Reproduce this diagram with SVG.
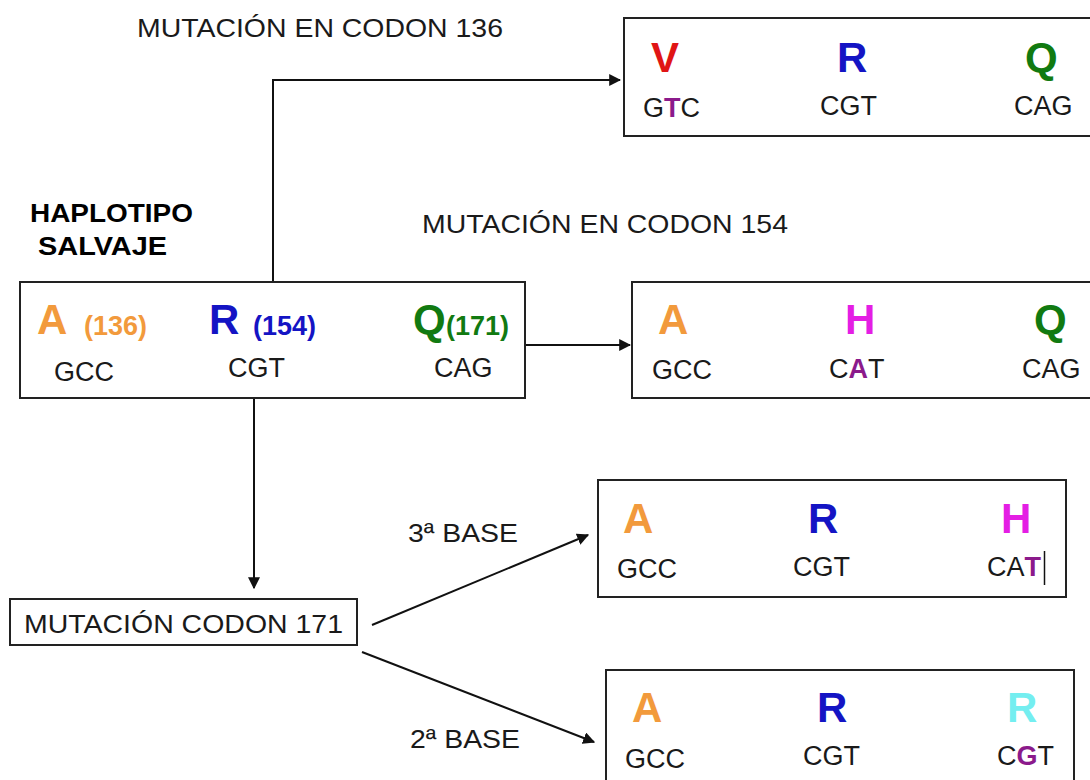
<svg xmlns="http://www.w3.org/2000/svg" width="1090" height="780" viewBox="0 0 1090 780">
<style>
.box{fill:#fff;stroke:#222;stroke-width:2}
.lbl{font-family:"Liberation Sans",Arial,sans-serif;font-size:25px;fill:#1a1a1a}
.big{font-family:"Liberation Sans",Arial,sans-serif;font-size:42px;font-weight:bold}
.num{font-family:"Liberation Sans",Arial,sans-serif;font-size:27px;font-weight:bold}
.cod{font-family:"Liberation Sans",Arial,sans-serif;font-size:27px;fill:#1a1a1a}
.hb{font-family:"Liberation Sans",Arial,sans-serif;font-size:25px;font-weight:bold;fill:#000}
.mt{fill:#8B1A8B;font-weight:bold}
.or{fill:#F29A3C}.bl{fill:#1414C4}.gr{fill:#117A11}.rd{fill:#E01515}.mg{fill:#E41EE4}.cy{fill:#74EEF0}
.conn{fill:none;stroke:#111;stroke-width:2}
</style>
<defs>
<marker id="arr" viewBox="0 0 10 10" refX="9" refY="5" markerWidth="6" markerHeight="6" markerUnits="strokeWidth" orient="auto">
<path d="M0,0 L10,5 L0,10 z" fill="#111"/>
</marker>
</defs>
<rect width="1090" height="780" fill="#fff"/>

<g id="titles">
<text class="lbl" x="137" y="37" textLength="366" lengthAdjust="spacingAndGlyphs">MUTACIÓN EN CODON 136</text>
<text class="lbl" x="422" y="233" textLength="366" lengthAdjust="spacingAndGlyphs">MUTACIÓN EN CODON 154</text>
<text class="hb" x="30" y="222" textLength="163" lengthAdjust="spacingAndGlyphs">HAPLOTIPO</text>
<text class="hb" x="38" y="255" textLength="129" lengthAdjust="spacingAndGlyphs">SALVAJE</text>
<text class="lbl" x="408" y="542" textLength="110" lengthAdjust="spacingAndGlyphs">3ª BASE</text>
<text class="lbl" x="410" y="748" textLength="110" lengthAdjust="spacingAndGlyphs">2ª BASE</text>
</g>

<g id="connectors">
<polyline class="conn" points="273,282 273,80 620,80" marker-end="url(#arr)"/>
<line class="conn" x1="525" y1="345" x2="630" y2="345" marker-end="url(#arr)"/>
<line class="conn" x1="254" y1="398" x2="254" y2="588" marker-end="url(#arr)"/>
<line class="conn" x1="372" y1="625" x2="588" y2="535" marker-end="url(#arr)"/>
<line class="conn" x1="362" y1="652" x2="594" y2="742" marker-end="url(#arr)"/>
</g>

<g id="wild">
<rect class="box" x="20" y="282" width="505" height="116"/>
<text class="big or" x="37" y="334">A</text>
<text class="num or" x="84" y="335">(136)</text>
<text class="big bl" x="209" y="334">R</text>
<text class="num bl" x="253" y="335">(154)</text>
<text class="big gr" x="413" y="334">Q</text>
<text class="num gr" x="446" y="335">(171)</text>
<text class="cod" x="54" y="381">GCC</text>
<text class="cod" x="228" y="377">CGT</text>
<text class="cod" x="434" y="377">CAG</text>
</g>

<g id="mut136">
<rect class="box" x="624" y="18" width="480" height="118"/>
<text class="big rd" x="651" y="72">V</text>
<text class="big bl" x="837" y="72">R</text>
<text class="big gr" x="1025" y="72">Q</text>
<text class="cod" x="643" y="117">G<tspan class="mt">T</tspan>C</text>
<text class="cod" x="820" y="115">CGT</text>
<text class="cod" x="1014" y="115">CAG</text>
</g>

<g id="mut154">
<rect class="box" x="632" y="282" width="470" height="116"/>
<text class="big or" x="658" y="334">A</text>
<text class="big mg" x="845" y="334">H</text>
<text class="big gr" x="1034" y="334">Q</text>
<text class="cod" x="652" y="379">GCC</text>
<text class="cod" x="829" y="378">C<tspan class="mt">A</tspan>T</text>
<text class="cod" x="1022" y="378">CAG</text>
</g>

<g id="codon171">
<rect class="box" x="10" y="599" width="347" height="46"/>
<text class="lbl" x="24" y="633" textLength="319" lengthAdjust="spacingAndGlyphs">MUTACIÓN CODON 171</text>
</g>

<g id="base3">
<rect class="box" x="598" y="480" width="468" height="117"/>
<text class="big or" x="623" y="533">A</text>
<text class="big bl" x="808" y="533">R</text>
<text class="big mg" x="1001" y="533">H</text>
<text class="cod" x="617" y="578">GCC</text>
<text class="cod" x="793" y="576">CGT</text>
<text class="cod" x="987" y="576">CA<tspan class="mt">T</tspan></text>
<line x1="1044.5" y1="551" x2="1044.5" y2="585" stroke="#111" stroke-width="1.5"/>
</g>

<g id="base2">
<rect class="box" x="606" y="670" width="468" height="130"/>
<text class="big or" x="632" y="722">A</text>
<text class="big bl" x="817" y="722">R</text>
<text class="big cy" x="1007" y="722">R</text>
<text class="cod" x="625" y="768">GCC</text>
<text class="cod" x="803" y="765">CGT</text>
<text class="cod" x="997" y="765">C<tspan class="mt">G</tspan>T</text>
</g>
</svg>
